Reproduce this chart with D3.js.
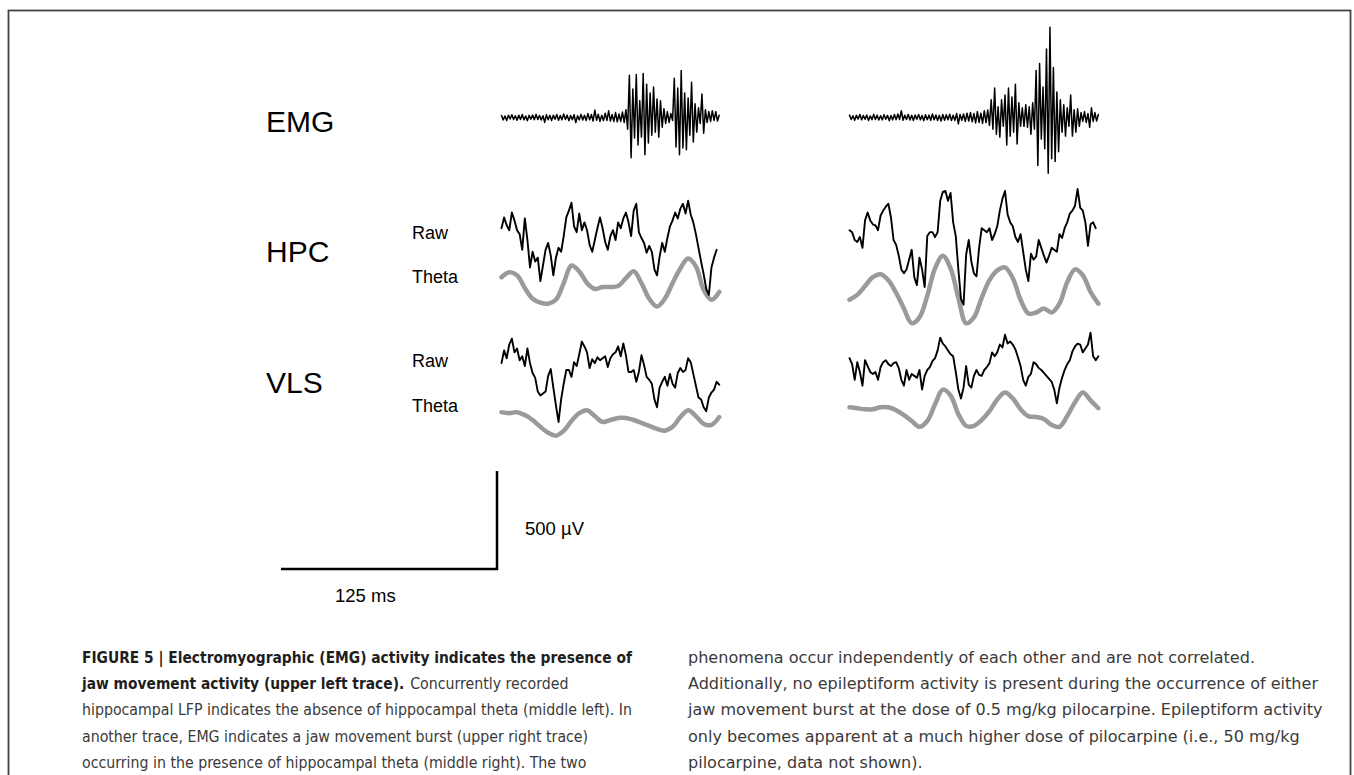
<!DOCTYPE html>
<html>
<head>
<meta charset="utf-8">
<script src="https://cdnjs.cloudflare.com/ajax/libs/d3/7.8.5/d3.min.js"></script>
<style>
  body { margin: 0; background: #fff; }
  svg { display: block; }
  .label { font-family: "Liberation Sans", Arial, sans-serif; fill: #000; }
  .caption { font-family: "Liberation Sans Narrow", "DejaVu Sans Condensed", Roboto, sans-serif; font-size: 16.5px; fill: #3a3a3a; }
  .caption.bold { font-weight: bold; font-size: 15px; fill: #1e1e1e; }
</style>
</head>
<body>
<svg id="fig" width="1354" height="775"></svg>
<script>

// sampling steps (ms)
var emgStep = 1, rawStep = 1.5, thetaStep = 4.5;

// scale bar values
var barTime = 125, barVolt = 500;

// EMG traces (µV)
var emgLeft = [10,-12,8,-15,12,-8,14,-10,9,-14,
  12,-10,15,-12,8,-16,11,-9,13,-11,
  16,-10,10,-13,9,-25,14,-12,11,-15,
  12,-9,15,-14,10,-12,18,-10,12,-16,
  10,-11,14,-26,9,-12,16,-13,11,-15,
  20,-12,15,-18,38,-14,17,-20,12,-16,
  22,-15,34,-18,15,-20,25,-22,18,-20,
  28,-25,40,-60,215,-205,145,-105,220,-140,
  85,-100,225,-190,170,-130,125,-90,155,-75,
  95,-100,85,-50,45,-30,30,-25,20,-15,
  200,-150,150,-190,240,-155,125,-165,100,-90,
  180,-125,70,-75,50,-30,120,-80,40,-25,
  30,-20,35,-15,30,-18,12];

var emgRight = [12,-10,9,-14,11,-8,15,-12,10,-9,
  13,-15,8,-11,16,-10,12,-13,9,-12,
  14,-9,11,-16,10,-12,15,-11,18,-10,
  35,-14,12,-10,16,-13,11,-15,13,-9,
  15,-12,10,-16,14,-11,12,-14,18,-12,
  13,-15,11,-18,15,-14,14,-12,17,-16,
  12,-15,20,-32,16,-14,18,-20,22,-18,
  25,-22,20,-28,30,-25,22,-30,35,-26,
  38,-40,90,-60,150,-85,55,-100,90,-45,
  115,-140,150,-95,105,-75,170,-135,75,-45,
  50,-45,65,-50,55,-85,75,-60,240,-245,
  275,-110,155,-160,350,-285,460,-210,255,-225,
  130,-175,90,-75,65,-95,50,-45,115,-95,
  40,-75,45,-45,25,-20,30,-25,20,-50,
  50,-20,25,-18,15];

// hippocampus raw + theta (µV)
var hpcRawLeft = [60,115,75,50,140,100,50,30,-50,110,
  0,-140,-60,-110,-90,-210,-130,-50,-15,-80,
  -180,-90,-40,-60,20,115,150,190,70,40,
  135,50,90,50,-25,-60,0,60,115,60,
  -10,-50,20,50,0,90,60,110,140,90,
  20,150,185,40,10,-15,-65,-30,-60,-150,
  -180,-85,-15,-60,10,70,100,140,110,160,
  185,135,200,130,90,30,-40,-110,-175,-250,
  -280,-140,-90,-50];

var hpcThetaLeft = [55,80,65,0,-55,-75,-80,-60,25,115,85,25,-5,5,5,
  10,50,85,25,-55,-95,-55,25,100,150,110,-10,-60,-20];

var hpcRawRight = [50,40,0,-10,15,-40,100,140,100,80,
  75,50,125,150,170,185,115,0,-25,-80,
  -150,-170,-150,-100,-50,-190,-230,-90,-150,-240,
  20,40,40,15,40,200,245,250,200,240,
  90,20,-150,-300,-330,-75,0,-110,-170,-185,
  -40,60,50,40,60,0,30,70,150,210,
  250,130,90,70,15,-10,30,-60,-150,-210,
  -70,-100,-85,0,-40,-80,-115,-80,-40,-50,
  -60,30,10,60,90,135,150,175,260,165,
  150,90,-30,80,90,60];

var hpcThetaRight = [-60,-35,10,55,70,40,-25,-105,-180,-150,-40,100,165,100,-50,-180,
  -150,-50,40,90,105,50,-60,-130,-125,-105,-125,-80,30,95,65,-20,-80];

// ventrolateral striatum raw + theta (µV)
var vlsRawLeft = [35,100,60,130,160,90,110,50,70,20,
  110,35,-15,-40,-110,-130,-120,-110,-30,5,
  -90,-180,-265,-150,-70,0,0,-35,40,20,
  80,145,120,90,10,55,35,65,50,60,
  70,15,60,80,90,120,70,135,75,-10,
  -10,0,-60,-10,75,25,-35,-50,-70,-150,
  -190,-90,-60,-35,-80,-20,-70,-90,-15,10,
  -10,0,60,40,-20,-80,-140,-150,-190,-210,
  -140,-115,-100,-60,-75];

var vlsThetaLeft = [40,35,40,25,0,-35,-65,-80,-55,-5,35,50,20,-10,0,
  10,10,0,-15,-30,-45,-55,-35,15,50,20,-20,-25,15];

var vlsRawRight = [60,30,-50,40,-10,-80,50,20,-10,-20,
  -10,-50,15,40,50,30,20,35,40,10,
  -50,-80,0,-50,-20,-30,-40,0,-100,-30,
  0,15,45,60,100,165,135,120,100,80,
  70,-10,-100,-145,-90,20,-75,-90,-30,0,
  -25,-30,0,15,35,90,70,90,130,115,
  180,135,145,130,105,65,20,-50,-80,-35,
  -20,40,30,10,0,-15,-30,-45,-60,-100,
  -170,-90,-40,0,30,50,95,120,135,130,
  90,110,130,190,70,50,70];

var vlsThetaRight = [65,60,55,55,65,65,50,25,-5,-35,-5,80,155,125,30,-30,
  -30,0,45,105,140,110,55,20,15,5,-25,-35,20,90,140,100,60];

// labels
var rowNames = ["EMG", "HPC", "VLS"];
var subNames = ["Raw", "Theta"];
var barLabels = ["125 ms", "500 µV"];

// caption lines
var capBold = ["FIGURE 5 | Electromyographic (EMG) activity indicates the presence of",
  "jaw movement activity (upper left trace)."];
var capLeft = ["Concurrently recorded",
  "hippocampal LFP indicates the absence of hippocampal theta (middle left). In",
  "another trace, EMG indicates a jaw movement burst (upper right trace)",
  "occurring in the presence of hippocampal theta (middle right). The two"];
var capRight = ["phenomena occur independently of each other and are not correlated.",
  "Additionally, no epileptiform activity is present during the occurrence of either",
  "jaw movement burst at the dose of 0.5 mg/kg pilocarpine. Epileptiform activity",
  "only becomes apparent at a much higher dose of pilocarpine (i.e., 50 mg/kg",
  "pilocarpine, data not shown)."];

var svg = d3.select("#fig");

// frame
svg.append("rect")
  .attr("x", 8.5).attr("y", 10.5)
  .attr("width", 1342).attr("height", 800)
  .attr("fill", "none")
  .attr("stroke", "#444")
  .attr("stroke-width", 1.8);

// geometry: 125 ms -> 216 px, 500 µV -> 98 px
var msWidth = 216, uvHeight = 98;
var panelX = [501.5, 849.5];
var rows = {emg: 117.5, hpcRaw: 240, hpcTheta: 288, vlsRaw: 370, vlsTheta: 420};

function xScale(x0) {
  return d3.scaleLinear().domain([0, barTime]).range([x0, x0 + msWidth]);
}

function yScale(y0) {
  return d3.scaleLinear().domain([-barVolt, barVolt]).range([y0 + uvHeight, y0 - uvHeight]);
}

function trace(values, step, x, y, kind) {
  var line = d3.line()
    .x((d, i) => { return x(i * step); })
    .y((d) => { return y(d); });

  if (kind == "theta") line.curve(d3.curveCatmullRom.alpha(0.5));

  svg.append("path")
    .datum(values)
    .attr("class", kind)
    .attr("d", line)
    .attr("fill", "none")
    .attr("stroke", kind == "theta" ? "#9a9a9a" : "#000")
    .attr("stroke-width", kind == "theta" ? 4.5 : (kind == "emg" ? 1.5 : 1.9))
    .attr("stroke-linejoin", "round")
    .attr("stroke-linecap", "round");
}

var panels = [
  {x: panelX[0], emg: emgLeft, hpcRaw: hpcRawLeft, hpcTheta: hpcThetaLeft, vlsRaw: vlsRawLeft, vlsTheta: vlsThetaLeft},
  {x: panelX[1], emg: emgRight, hpcRaw: hpcRawRight, hpcTheta: hpcThetaRight, vlsRaw: vlsRawRight, vlsTheta: vlsThetaRight}
];

panels.forEach((p) => {
  var x = xScale(p.x);
  trace(p.hpcTheta, thetaStep, x, yScale(rows.hpcTheta), "theta");
  trace(p.vlsTheta, thetaStep, x, yScale(rows.vlsTheta), "theta");
  trace(p.emg, emgStep, x, yScale(rows.emg), "emg");
  trace(p.hpcRaw, rawStep, x, yScale(rows.hpcRaw), "raw");
  trace(p.vlsRaw, rawStep, x, yScale(rows.vlsRaw), "raw");
});

// row labels
var rowY = [132, 262, 393];
svg.selectAll("text.row")
  .data(rowNames)
  .enter().append("text")
  .attr("class", "label row")
  .attr("x", 266)
  .attr("y", (d, i) => { return rowY[i]; })
  .style("font-size", "30px")
  .text((d) => { return d; });

var subY = [[239, 283], [367, 412]];
subY.forEach((ys) => {
  ys.forEach((yy, j) => {
    svg.append("text")
      .attr("class", "label")
      .attr("x", 412)
      .attr("y", yy)
      .style("font-size", "18px")
      .text(subNames[j]);
  });
});

// scale bar
var xBar = d3.scaleLinear().domain([0, barTime]).range([281, 281 + msWidth]);
var yBar = d3.scaleLinear().domain([0, barVolt]).range([569, 569 - uvHeight]);

svg.append("path")
  .attr("d", d3.line()([[xBar(0), yBar(0)], [xBar(barTime), yBar(0)], [xBar(barTime), yBar(barVolt)]]))
  .attr("fill", "none")
  .attr("stroke", "#000")
  .attr("stroke-width", 2.5);

svg.append("text")
  .attr("class", "label")
  .attr("x", 335).attr("y", 602)
  .style("font-size", "18.5px")
  .text(barLabels[0]);

svg.append("text")
  .attr("class", "label")
  .attr("x", 525).attr("y", 535)
  .style("font-size", "18.5px")
  .text(barLabels[1]);

// caption: one horizontal squeeze per column so glyphs stay alike
var capY = [663, 689, 715, 742, 768];
var colX = [82, 688];
var refWidth = [550, 630, 550];   // left line 3, right line 2, bold line 1

function capLine(str, x, y, bold) {
  return svg.append("text")
    .attr("class", bold ? "caption bold" : "caption")
    .attr("x", x).attr("y", y)
    .text(str);
}

function squeeze(t, k) {
  var w = t.node().getComputedTextLength();
  t.attr("textLength", w * k).attr("lengthAdjust", "spacingAndGlyphs");
  return w * k;
}

var l1 = capLine(capBold[0], colX[0], capY[0], true),
    l2a = capLine(capBold[1], colX[0], capY[1], true),
    l2b = capLine(capLeft[0], colX[0], capY[1], false),
    l3 = capLine(capLeft[1], colX[0], capY[2], false),
    l4 = capLine(capLeft[2], colX[0], capY[3], false),
    l5 = capLine(capLeft[3], colX[0], capY[4], false);

var kLeft = refWidth[0] / l3.node().getComputedTextLength(),
    kBold = refWidth[2] / l1.node().getComputedTextLength();
[l3, l4, l5].forEach((t) => { squeeze(t, kLeft); });
squeeze(l1, kBold);
var boldW = Math.max(squeeze(l2a, kBold), l2a.node().getComputedTextLength());
l2b.attr("x", colX[0] + boldW + 6);
squeeze(l2b, kLeft);

var right = capRight.map((s, i) => { return capLine(s, colX[1], capY[i], false); });
var kRight = refWidth[1] / right[1].node().getComputedTextLength();
right.forEach((t) => { squeeze(t, kRight); });

</script>
</body>
</html>
